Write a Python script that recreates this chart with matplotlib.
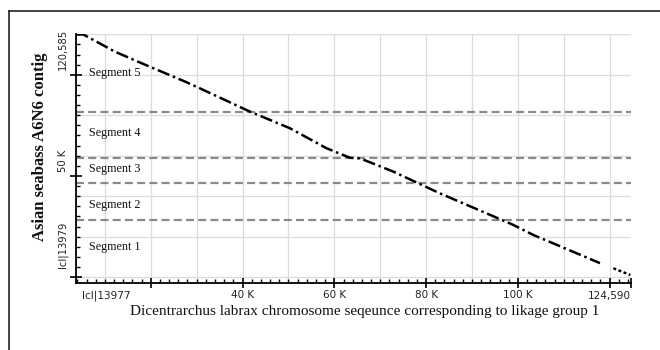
import matplotlib
matplotlib.use("Agg")
import matplotlib.pyplot as plt
from matplotlib.lines import Line2D
from matplotlib.ticker import FixedLocator, NullFormatter
import numpy as np

# ---- data (values in thousands of bp) ----
line_x = [3.7, 5.3, 12.2, 18.0, 27.5, 30.7, 41.6, 50.3, 58.3, 63.4, 65.6, 72.9,
          83.0, 93.2, 99.0, 103.4, 107.7, 112.8, 117.9]
line_y = [119.9, 119.9, 111.4, 105.7, 96.6, 93.3, 81.8, 73.6, 63.7, 59.0, 58.7, 52.1,
          41.4, 31.5, 25.8, 20.8, 16.7, 11.8, 6.9]
tail_x = [120.8, 124.5]
tail_y = [4.4, 1.05]

segment_bounds = [81.8, 59.1, 46.4, 28.1]
segment_names = ["Segment 5", "Segment 4", "Segment 3", "Segment 2", "Segment 1"]
segment_label_y = [100.7, 71.4, 53.3, 35.6, 14.7]

x_tick_vals = [10.4, 40, 60, 80, 100, 120]
x_tick_labels = ["Icl|13977", "40 K", "60 K", "80 K", "100 K", "124,590"]
y_tick_vals = [102.4, 52.0, 4.5]
y_tick_labels = ["120,585", "50 K", "Icl|13979"]

XMIN, XMAX = 3.7, 124.59
YMIN, YMAX = -2.9, 120.0

fig = plt.figure(figsize=(6.6, 3.5), dpi=100)
ax = fig.add_axes([76/660, (350-283)/350, (630.7-76)/660, (283-34.3)/350])
ax.set_xlim(XMIN, XMAX)
ax.set_ylim(YMIN, YMAX)

# grid
for gx in np.arange(10, 121, 10):
    ax.axvline(gx, color="#dcdcdc", lw=0.9, zorder=0)
for gy in np.arange(0, 121, 20):
    ax.axhline(gy, color="#dcdcdc", lw=0.9, zorder=0)

# segment boundaries
for b in segment_bounds:
    ax.axhline(b, color="#8a8a8a", lw=1.6, linestyle=(0, (3.6, 1.9)), zorder=1)

# alignment line
ax.plot(line_x, line_y, color="black", lw=1.8, linestyle=(0, (5, 1.5, 1, 1.5)),
        solid_capstyle="butt", zorder=3)
ax.plot(tail_x, tail_y, color="black", lw=1.8, linestyle=(0, (1.2, 1.0)), zorder=3)

# segment labels
for name, yy in zip(segment_names, segment_label_y):
    ax.text(6.6, yy, name, family="Liberation Serif", fontsize=8.7,
            va="center", ha="left", color="#111111")

# spines
for s in ["top", "right"]:
    ax.spines[s].set_visible(False)
for s in ["left", "bottom"]:
    ax.spines[s].set_linewidth(1.3)
    ax.spines[s].set_color("black")

# ticks
ax.xaxis.set_major_locator(FixedLocator([20, 40, 60, 80, 100, 120, 124.59]))
ax.xaxis.set_minor_locator(FixedLocator(np.arange(4, 125, 2)))
ax.yaxis.set_major_locator(FixedLocator([0, 50, 100]))
ax.yaxis.set_minor_locator(FixedLocator(np.arange(0, 120, 5)))
ax.xaxis.set_major_formatter(NullFormatter())
ax.yaxis.set_major_formatter(NullFormatter())
ax.tick_params(axis="x", which="major", direction="inout", length=7.5, width=1.2, color="black")
ax.tick_params(axis="x", which="minor", direction="in", length=2.6, width=1.0, color="black")
ax.tick_params(axis="y", which="major", direction="inout", length=8.5, width=1.2, color="black")
ax.tick_params(axis="y", which="minor", direction="in", length=3.0, width=1.0, color="black")

# tick labels (placed as in the reference)
xt = ax.get_xaxis_transform()
for v, lab in zip(x_tick_vals, x_tick_labels):
    ax.text(v, -(290.5-283)/248.7, lab, transform=xt, ha="center", va="top",
            family="DejaVu Sans", fontsize=7.5, color="#222222")
yt = ax.get_yaxis_transform()
for v, lab in zip(y_tick_vals, y_tick_labels):
    ax.text((63-76)/554.7, v, lab, transform=yt, rotation=90, ha="center", va="bottom",
            family="DejaVu Sans", fontsize=7.2, color="#222222")

# axis titles
fig.text(365/660, (350-311.5)/350,
         "Dicentrarchus labrax chromosome seqeunce corresponding to likage group 1",
         family="Liberation Serif", fontsize=11, ha="center", va="center", color="#111111")
fig.text(40/660, (350-146.7)/350, "Asian seabass A6N6 contig",
         family="Liberation Serif", fontweight="bold", fontsize=12, rotation=90,
         ha="center", va="center", color="#111111")

# outer frame
fig.add_artist(Line2D([9/660, 9/660], [0, (350-10.5)/350], transform=fig.transFigure,
                      color="#222222", lw=1.2))
fig.add_artist(Line2D([9/660, 1], [(350-10.5)/350, (350-10.5)/350], transform=fig.transFigure,
                      color="#222222", lw=1.2))

fig.savefig("out.png", dpi=100)
